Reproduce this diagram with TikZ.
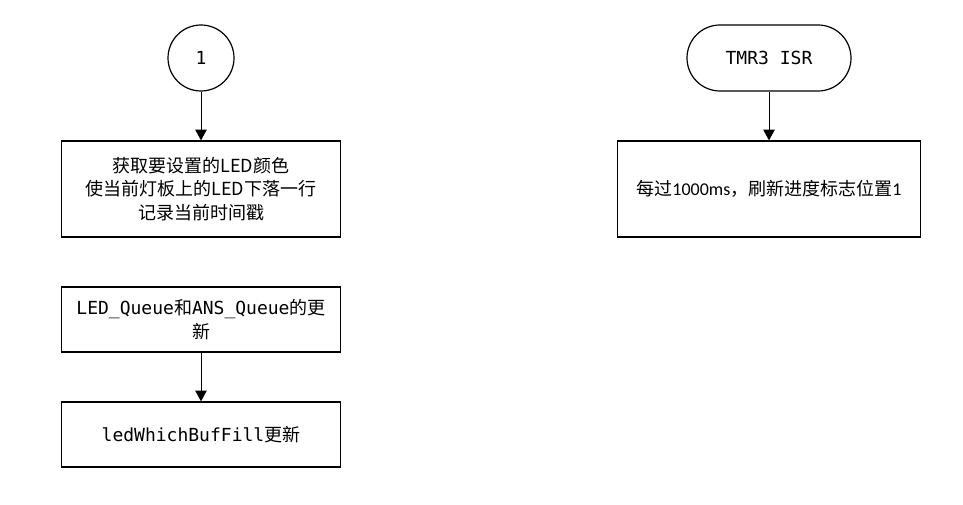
\documentclass[tikz,border=0pt]{standalone}
\usepackage{fontspec}
\setmainfont{Noto Sans CJK SC}
\setmonofont{DejaVu Sans Mono}
\newfontfamily\numfont{Carlito}
\usetikzlibrary{positioning, arrows.meta}
\tikzset{
  flow/.style={
	x=0.75pt, y=-0.75pt, % one unit is one pixel of the reference
	line width=0.75pt,
	node distance=36.6pt, % gap between two boxes of a column
	every node/.style={font=\fontsize{13.5}{17.6}\selectfont, line width=0.9pt, align=center},
  },
  go/.style={-{Triangle[length=8pt,width=8.5pt]}},
  stepbox/.style={draw, rectangle, minimum width=209.25pt, minimum height=72pt, inner sep=2pt},
  flatbox/.style={stepbox, minimum height=48.75pt},
  widebox/.style={stepbox, minimum width=227.25pt},
  connector/.style={draw, circle, minimum size=49.5pt, inner sep=0pt},
  terminal/.style={draw, rectangle, rounded corners=24.75pt, minimum width=123pt, minimum height=49.5pt},
}
\begin{document}
\begin{tikzpicture}[flow]
\useasboundingbox (0,0) rectangle (963,505);

\node[connector] at (201,58) (c1) {\ttfamily 1};
\node[stepbox, below=of c1] (ledset) {获取要设置的LED颜色\\使当前灯板上的LED下落一行\\记录当前时间戳};
\node[flatbox, below=of ledset] (queue) {{\ttfamily LED\_Queue}和{\ttfamily ANS\_Queue}的更\\新};
\node[flatbox, below=of queue] (bufill) {{\ttfamily ledWhichBufFill}更新};

\node[terminal] at (769,58) (isr) {\ttfamily TMR3 ISR};
\node[widebox, below=of isr] (tick) {每过{\numfont 1000ms}，刷新进度标志位置{\numfont 1}};

\draw[go] (c1) -- (ledset);
\draw[go] (queue) -- (bufill);
\draw[go] (isr) -- (tick);
\end{tikzpicture}
\end{document}
